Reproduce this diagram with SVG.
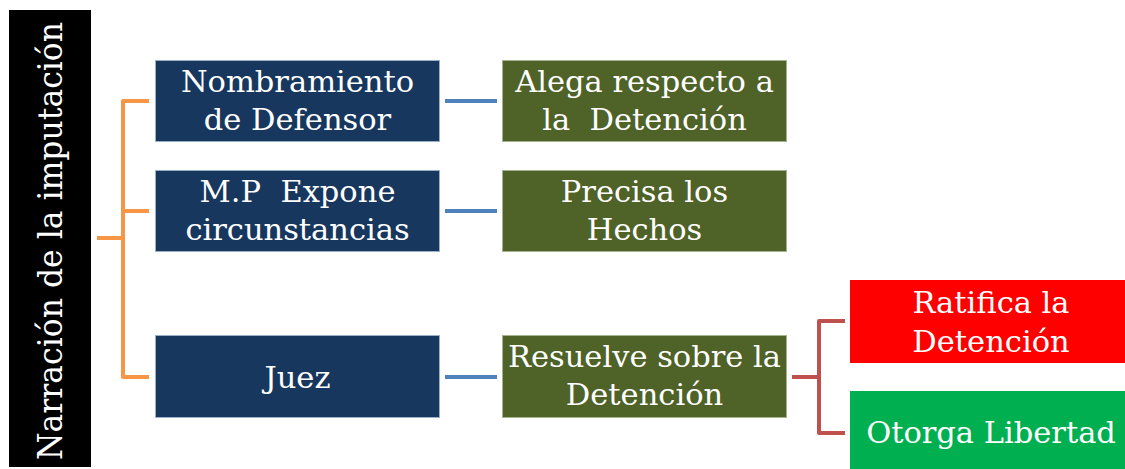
<svg xmlns="http://www.w3.org/2000/svg" width="1125" height="469" viewBox="0 0 1125 469">
<style>
.t{font-family:"DejaVu Serif","Liberation Serif",serif;font-size:30.5px;fill:#ffffff;text-anchor:middle;white-space:pre}
.v{font-size:33px}
.navy{fill:#17375E;stroke:#9AAFC8;stroke-width:1}
.olive{fill:#4F6228;stroke:#A7B28F;stroke-width:1}
.c{fill:none;stroke-width:4;stroke-linejoin:round;stroke-linecap:butt}
</style>
<rect width="1125" height="469" fill="#ffffff"/>
<g id="root">
<rect x="9" y="10" width="82" height="457" fill="#000000"/>
<text class="t v" x="62" y="241" transform="rotate(-90 62 241)" textLength="438" lengthAdjust="spacingAndGlyphs">Narración de la imputación</text>
</g>
<g id="connectors">
<path class="c" stroke="#F79646" d="M97 238H123M149 101H123V377H149M123 211H149"/>
<path class="c" stroke="#4F81BD" d="M445 101H497M445 211H497M445 377H497"/>
<path class="c" stroke="#C0504D" d="M792 377H819M845 321H819V433H845"/>
</g>
<g id="n1">
<rect class="navy" x="155.5" y="60.5" width="284" height="81"/>
<text class="t" x="297.5" y="92">Nombramiento</text>
<text class="t" x="297.5" y="130">de Defensor</text>
</g>
<g id="n2">
<rect class="navy" x="155.5" y="170.5" width="284" height="81"/>
<text class="t" x="297.5" y="202">M.P  Expone</text>
<text class="t" x="297.5" y="240">circunstancias</text>
</g>
<g id="n3">
<rect class="navy" x="155.5" y="335.5" width="284" height="82"/>
<text class="t" x="297.5" y="388">Juez</text>
</g>
<g id="n4">
<rect class="olive" x="502.5" y="60.5" width="284" height="81"/>
<text class="t" x="644.5" y="92">Alega respecto a</text>
<text class="t" x="644.5" y="130">la  Detención</text>
</g>
<g id="n5">
<rect class="olive" x="502.5" y="170.5" width="284" height="81"/>
<text class="t" x="644.5" y="202">Precisa los</text>
<text class="t" x="644.5" y="240">Hechos</text>
</g>
<g id="n6">
<rect class="olive" x="502.5" y="335.5" width="284" height="82"/>
<text class="t" x="644.5" y="367">Resuelve sobre la</text>
<text class="t" x="644.5" y="405">Detención</text>
</g>
<g id="n7">
<rect x="850" y="280" width="275" height="83" fill="#FF0000"/>
<text class="t" x="991" y="313">Ratifica la</text>
<text class="t" x="991" y="352">Detención</text>
</g>
<g id="n8">
<rect x="850" y="391" width="275" height="80" fill="#00B050"/>
<text class="t" x="991" y="443">Otorga Libertad</text>
</g>
</svg>
